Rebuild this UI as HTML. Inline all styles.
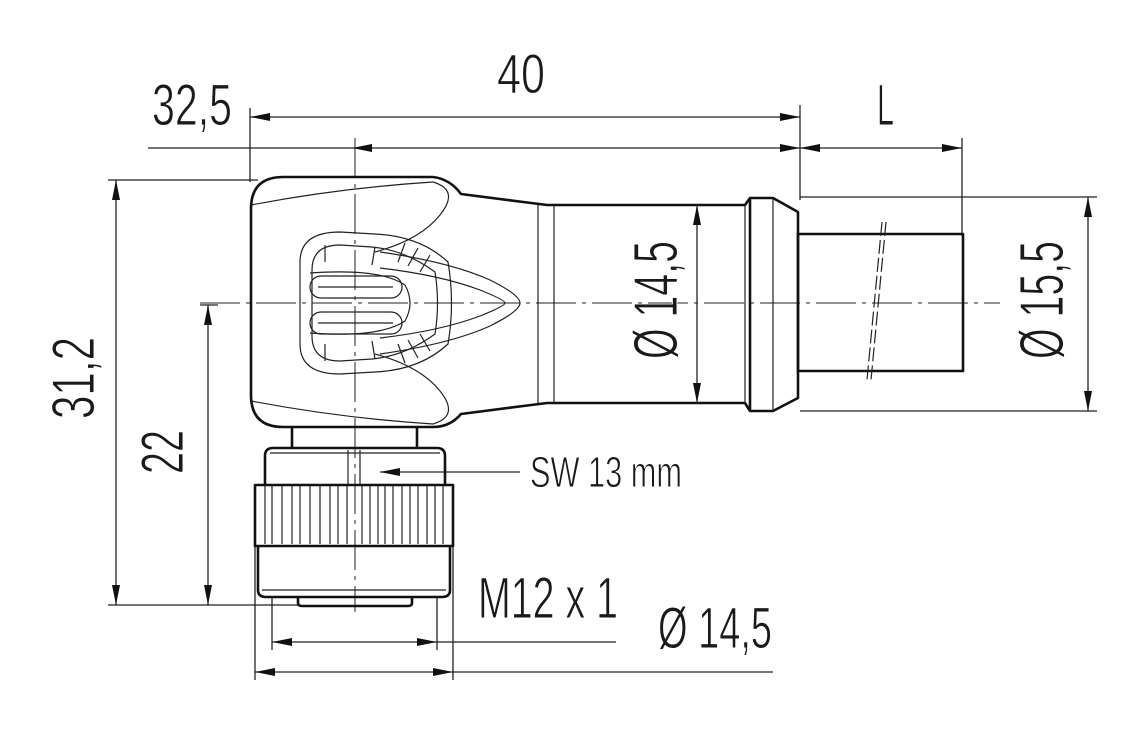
<!DOCTYPE html>
<html><head><meta charset="utf-8"><style>
html,body{margin:0;padding:0;background:#fff;}
svg{display:block;}
text{font-family:"Liberation Sans",sans-serif;fill:#1a1a1a;stroke:#fff;stroke-width:0.9;}
</style></head><body>
<svg width="1145" height="729" viewBox="0 0 1145 729" xmlns="http://www.w3.org/2000/svg">
<defs>
<marker id="a" viewBox="0 0 20 8" refX="20" refY="4" markerWidth="20" markerHeight="8" markerUnits="userSpaceOnUse" orient="auto-start-reverse"><path d="M0,0 L20,4 L0,8 Z" fill="#111"/></marker>
</defs>
<g fill="none" stroke="#222" stroke-width="1.3">
<line x1="250" y1="108" x2="250" y2="182"/>
<line x1="800" y1="105" x2="800" y2="200"/>
<line x1="962" y1="138" x2="962" y2="236"/>
<line x1="108" y1="180" x2="258" y2="180"/>
<line x1="108" y1="605" x2="300" y2="605"/>
<line x1="200" y1="305" x2="218" y2="305"/>
<line x1="800" y1="197" x2="1097" y2="197"/>
<line x1="800" y1="411" x2="1097" y2="411"/>
<line x1="272" y1="598" x2="272" y2="650"/>
<line x1="437" y1="598" x2="437" y2="650"/>
<line x1="255" y1="545" x2="255" y2="680"/>
<line x1="453" y1="545" x2="453" y2="680"/>
<line x1="250" y1="117" x2="800" y2="117" marker-start="url(#a)" marker-end="url(#a)"/>
<line x1="148" y1="148" x2="352" y2="148"/>
<line x1="352" y1="148" x2="800" y2="148" marker-start="url(#a)" marker-end="url(#a)"/>
<line x1="800" y1="148" x2="962" y2="148" marker-start="url(#a)" marker-end="url(#a)"/>
<line x1="116" y1="180" x2="116" y2="605" marker-start="url(#a)" marker-end="url(#a)"/>
<line x1="208" y1="305" x2="208" y2="605" marker-start="url(#a)" marker-end="url(#a)"/>
<line x1="697" y1="205" x2="697" y2="403" marker-start="url(#a)" marker-end="url(#a)"/>
<line x1="1088" y1="197" x2="1088" y2="411" marker-start="url(#a)" marker-end="url(#a)"/>
<line x1="272" y1="642" x2="437" y2="642" marker-start="url(#a)" marker-end="url(#a)"/>
<line x1="437" y1="642" x2="616" y2="642"/>
<line x1="255" y1="672" x2="453" y2="672" marker-start="url(#a)" marker-end="url(#a)"/>
<line x1="453" y1="672" x2="773" y2="672"/>
<line x1="520" y1="472" x2="380" y2="472" marker-end="url(#a)"/>
<line x1="200" y1="303" x2="1000" y2="303" stroke-dasharray="40 6 4 6" stroke-width="1"/>
<line x1="355" y1="138" x2="355" y2="612" stroke-dasharray="40 6 4 6" stroke-width="1"/>
</g>
<g fill="none" stroke="#111" stroke-width="2.6" stroke-linejoin="round">
<path d="M283,177 L433,177 Q450,179 461,194 L547,205 L745,205 L750,198 L773,198 L798,212 L798,398 L773,411 L750,411 L745,403 L547,403 L461,414 Q450,427 433,427 L283,427 Q251,427 251,395 L251,209 Q251,177 283,177 Z"/>
<line x1="750" y1="198" x2="750" y2="411"/>
<rect x="798" y="234" width="165" height="137"/>
<path d="M292,427 L292,448 M417,427 L417,448"/>
<path d="M265,486 L265,456 Q265,448 273,448 L437,448 Q445,448 445,456 L445,486"/>
<rect x="255" y="485" width="198" height="61"/>
<path d="M258,546 L258,590 Q258,597 266,597 L442,597 Q450,597 450,590 L450,546"/>
<path d="M298,597 L298,603 Q298,606 302,606 L408,606 Q412,606 412,603 L412,597"/>
</g>
<g fill="none" stroke="#222" stroke-width="1.2">
<line x1="538" y1="205" x2="538" y2="403"/>
<line x1="554" y1="205" x2="554" y2="403"/>
<line x1="773" y1="198" x2="773" y2="411"/>
<line x1="745" y1="205" x2="745" y2="403"/>
<path d="M251,205 Q340,188 433,182"/>
<path d="M251,401 Q340,418 433,424"/>
<path d="M433,182 Q460,190 440,215 Q420,240 375,252"/>
<path d="M433,424 Q460,416 440,391 Q420,366 375,354"/>
<path d="M300,262 Q300,232 340,232 L375,234 Q420,236 448,262 Q455,303 448,344 Q420,370 375,372 L340,374 Q300,374 300,344 Z"/>
<path d="M312,270 Q312,245 340,245 L372,247 Q405,250 435,272 Q440,303 435,334 Q405,356 372,359 L340,361 Q312,361 312,336 Z"/>
<path d="M380,252 Q450,262 490,280 Q520,295 520,303 Q520,311 490,326 Q450,344 380,354"/>
<path d="M380,268 Q440,275 480,290 Q505,300 505,303 Q505,306 480,316 Q440,331 380,338"/>
<path d="M310,273 Q380,268 405,285 Q415,303 405,321 Q380,338 310,333"/>
<rect x="310" y="276" width="92" height="22" rx="11"/>
<rect x="310" y="312" width="92" height="22" rx="11"/>
<line x1="318" y1="287" x2="393" y2="287"/>
<line x1="318" y1="323" x2="393" y2="323"/>
<line x1="325" y1="245" x2="325" y2="262"/><line x1="375" y1="247" x2="372" y2="265"/>
<line x1="325" y1="344" x2="325" y2="361"/><line x1="375" y1="359" x2="372" y2="341"/>
<line x1="405" y1="243" x2="398" y2="262"/><line x1="418" y1="248" x2="408" y2="266"/><line x1="430" y1="255" x2="420" y2="272"/>
<line x1="405" y1="363" x2="398" y2="344"/><line x1="418" y1="358" x2="408" y2="340"/><line x1="430" y1="351" x2="420" y2="334"/>
<path d="M882,222 L867,380 M886,222 L871,380" stroke-dasharray="14 4"/>
<line x1="348" y1="450" x2="348" y2="485"/>
<line x1="360" y1="450" x2="360" y2="485"/>
<line x1="270" y1="453" x2="440" y2="453"/>
<path d="M265,486V544M272,486V544M282,486V544M292,486V544M300,486V544M310,486V544M320,486V544M330,486V544M338,486V544M347,486V544M362,486V544M370,486V544M378,486V544M385,486V544M393,486V544M402,486V544M410,486V544M418,486V544M427,486V544M435,486V544M443,486V544"/>
<line x1="262" y1="590" x2="446" y2="590"/>
</g>
<text x="497" y="93" font-size="56" textLength="48" lengthAdjust="spacingAndGlyphs">40</text>
<text x="152" y="125" font-size="58" textLength="80" lengthAdjust="spacingAndGlyphs">32,5</text>
<text x="877" y="125" font-size="58" textLength="17" lengthAdjust="spacingAndGlyphs">L</text>
<text transform="translate(94,378) rotate(-90)" font-size="60" text-anchor="middle" textLength="82" lengthAdjust="spacingAndGlyphs">31,2</text>
<text transform="translate(183,452) rotate(-90)" font-size="60" text-anchor="middle" textLength="44" lengthAdjust="spacingAndGlyphs">22</text>
<text transform="translate(677,300) rotate(-90)" font-size="62" text-anchor="middle" textLength="118" lengthAdjust="spacingAndGlyphs">Ø 14,5</text>
<text transform="translate(1063,300) rotate(-90)" font-size="62" text-anchor="middle" textLength="118" lengthAdjust="spacingAndGlyphs">Ø 15,5</text>
<text x="530" y="487" font-size="44" textLength="152" lengthAdjust="spacingAndGlyphs">SW 13 mm</text>
<text x="478" y="618" font-size="58" textLength="140" lengthAdjust="spacingAndGlyphs">M12 x 1</text>
<text x="658" y="648" font-size="58" textLength="114" lengthAdjust="spacingAndGlyphs">Ø 14,5</text>
</svg>
</body></html>
